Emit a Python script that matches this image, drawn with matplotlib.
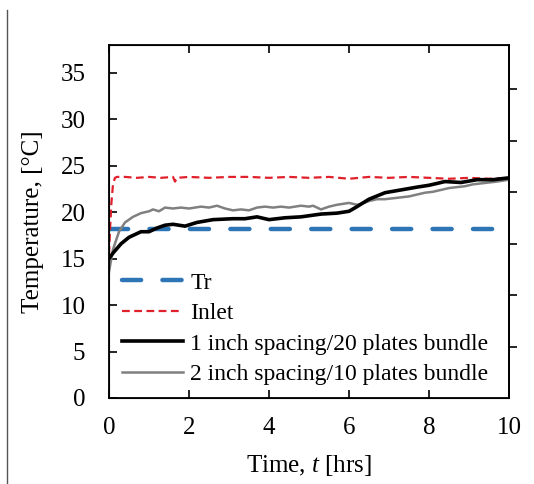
import matplotlib
matplotlib.use("Agg")
import matplotlib.pyplot as plt
from matplotlib.lines import Line2D

plt.rcParams['font.family'] = ['Liberation Serif', 'DejaVu Serif']
plt.rcParams['mathtext.fontset'] = 'custom'
plt.rcParams['mathtext.it'] = 'Liberation Serif:italic'
plt.rcParams['mathtext.rm'] = 'Liberation Serif'

# Reference temperature
tr_value = 18.2

# Inlet temperature [hrs, degC]
inlet_t = [0.0, 0.03, 0.06, 0.1, 0.15, 0.2, 0.4, 0.7, 1.0, 1.3, 1.6, 1.65, 1.7, 2.0, 2.5,
           3.0, 3.5, 4.0, 4.5, 5.0, 5.5, 6.0, 6.5, 7.0, 7.5, 8.0, 8.5, 9.0, 9.5, 10.0]
inlet_T = [15.5, 18.5, 21.0, 23.0, 23.7, 23.8, 23.8, 23.7, 23.8, 23.7, 23.8, 23.3, 23.7, 23.8, 23.7,
           23.8, 23.8, 23.7, 23.8, 23.7, 23.8, 23.6, 23.8, 23.7, 23.8, 23.7, 23.6, 23.7, 23.6, 23.7]

# 1 inch spacing / 20 plates bundle
b1_t = [0.0, 0.1, 0.3, 0.5, 0.8, 1.0, 1.2, 1.4, 1.6, 1.9, 2.2, 2.6, 3.1, 3.4, 3.7, 4.0,
        4.4, 4.8, 5.3, 5.7, 6.0, 6.2, 6.5, 6.9, 7.3, 7.7, 8.0, 8.4, 8.8, 9.2, 9.6, 10.0]
b1_T = [15.0, 15.6, 16.6, 17.3, 17.9, 17.9, 18.3, 18.6, 18.7, 18.5, 18.9, 19.2, 19.3, 19.3, 19.5, 19.2,
        19.4, 19.5, 19.8, 19.9, 20.1, 20.6, 21.4, 22.1, 22.4, 22.7, 22.9, 23.3, 23.2, 23.5, 23.5, 23.7]

# 2 inch spacing / 10 plates bundle
b2_t = [0.0, 0.1, 0.25, 0.4, 0.6, 0.8, 1.0, 1.1, 1.25, 1.4, 1.6, 1.8, 2.0, 2.3, 2.5, 2.7, 2.9, 3.1,
        3.3, 3.5, 3.7, 3.9, 4.1, 4.3, 4.5, 4.8, 5.0, 5.1, 5.3, 5.5, 5.7, 6.0, 6.2, 6.3, 6.5, 6.7,
        6.9, 7.1, 7.3, 7.5, 7.7, 7.9, 8.1, 8.3, 8.5, 8.7, 8.9, 9.1, 9.3, 9.5, 9.7, 10.0]
b2_T = [13.6, 16.0, 17.9, 18.9, 19.5, 19.9, 20.1, 20.3, 20.1, 20.5, 20.4, 20.5, 20.4, 20.6, 20.5, 20.7,
        20.4, 20.2, 20.3, 20.2, 20.5, 20.6, 20.5, 20.6, 20.5, 20.7, 20.6, 20.7, 20.3, 20.6, 20.8,
        21.0, 20.8, 20.9, 21.2, 21.4, 21.4, 21.5, 21.6, 21.7, 21.9, 22.1, 22.2, 22.4, 22.6, 22.7,
        22.8, 23.0, 23.1, 23.2, 23.3, 23.5]

x_ticks = [0, 2, 4, 6, 8, 10]
y_ticks = [0, 5, 10, 15, 20, 25, 30, 35]

fig = plt.figure(figsize=(5.34, 4.84), dpi=100)
ax = fig.add_axes([109 / 534, 1 - 398 / 484, 400 / 534, 353 / 484])

ax.plot([0, 10], [tr_value, tr_value], color='#2E75B6', lw=3.2,
        dashes=(4.3, 4.8), dash_capstyle='round', label='Tr', zorder=2)
ax.plot(inlet_t, inlet_T, color='#E0202A', lw=1.6, dashes=(3.5, 2.0), label='Inlet', zorder=3)
ax.plot(b1_t, b1_T, color='black', lw=2.6, label='1 inch spacing/20 plates bundle', zorder=4)
ax.plot(b2_t, b2_T, color='#808080', lw=1.8, label='2 inch spacing/10 plates bundle', zorder=3)

ax.set_xlim(0, 10)
ax.set_ylim(0, 38)
ax.set_xticks(x_ticks)
ax.set_yticks(y_ticks)
ax.tick_params(axis='both', direction='in', length=6, width=1.2, labelsize=18,
               top=True, labeltop=False)
ax.tick_params(axis='x', pad=14)
ax.tick_params(axis='y', pad=17)
for s in ax.spines.values():
    s.set_linewidth(1.3)

ax.set_xlabel('Time, $\\mathit{t}$ [hrs]', fontsize=18, labelpad=10)
ax.set_ylabel('Temperature, [°C]', fontsize=18, labelpad=12)

# secondary axis with outward unlabeled ticks on the right
ax2 = ax.twinx()
ax2.set_ylim(0, 353 / 51.5)
ax2.set_yticks([1, 2, 3, 4, 5, 6])
ax2.tick_params(axis='y', direction='out', length=6, width=1.2, labelright=False)
ax2.spines['right'].set_linewidth(1.3)

ax.legend(loc='lower left', frameon=False, fontsize=17, handlelength=2.6,
          handletextpad=0.3, labelspacing=0.38, borderaxespad=0.15,
          bbox_to_anchor=(0.0, 0.0))

fig.add_artist(Line2D([7 / 534, 7 / 534], [0, 1 - 10 / 484], color='#555555', lw=1.0))

fig.savefig('out.png', dpi=100)
